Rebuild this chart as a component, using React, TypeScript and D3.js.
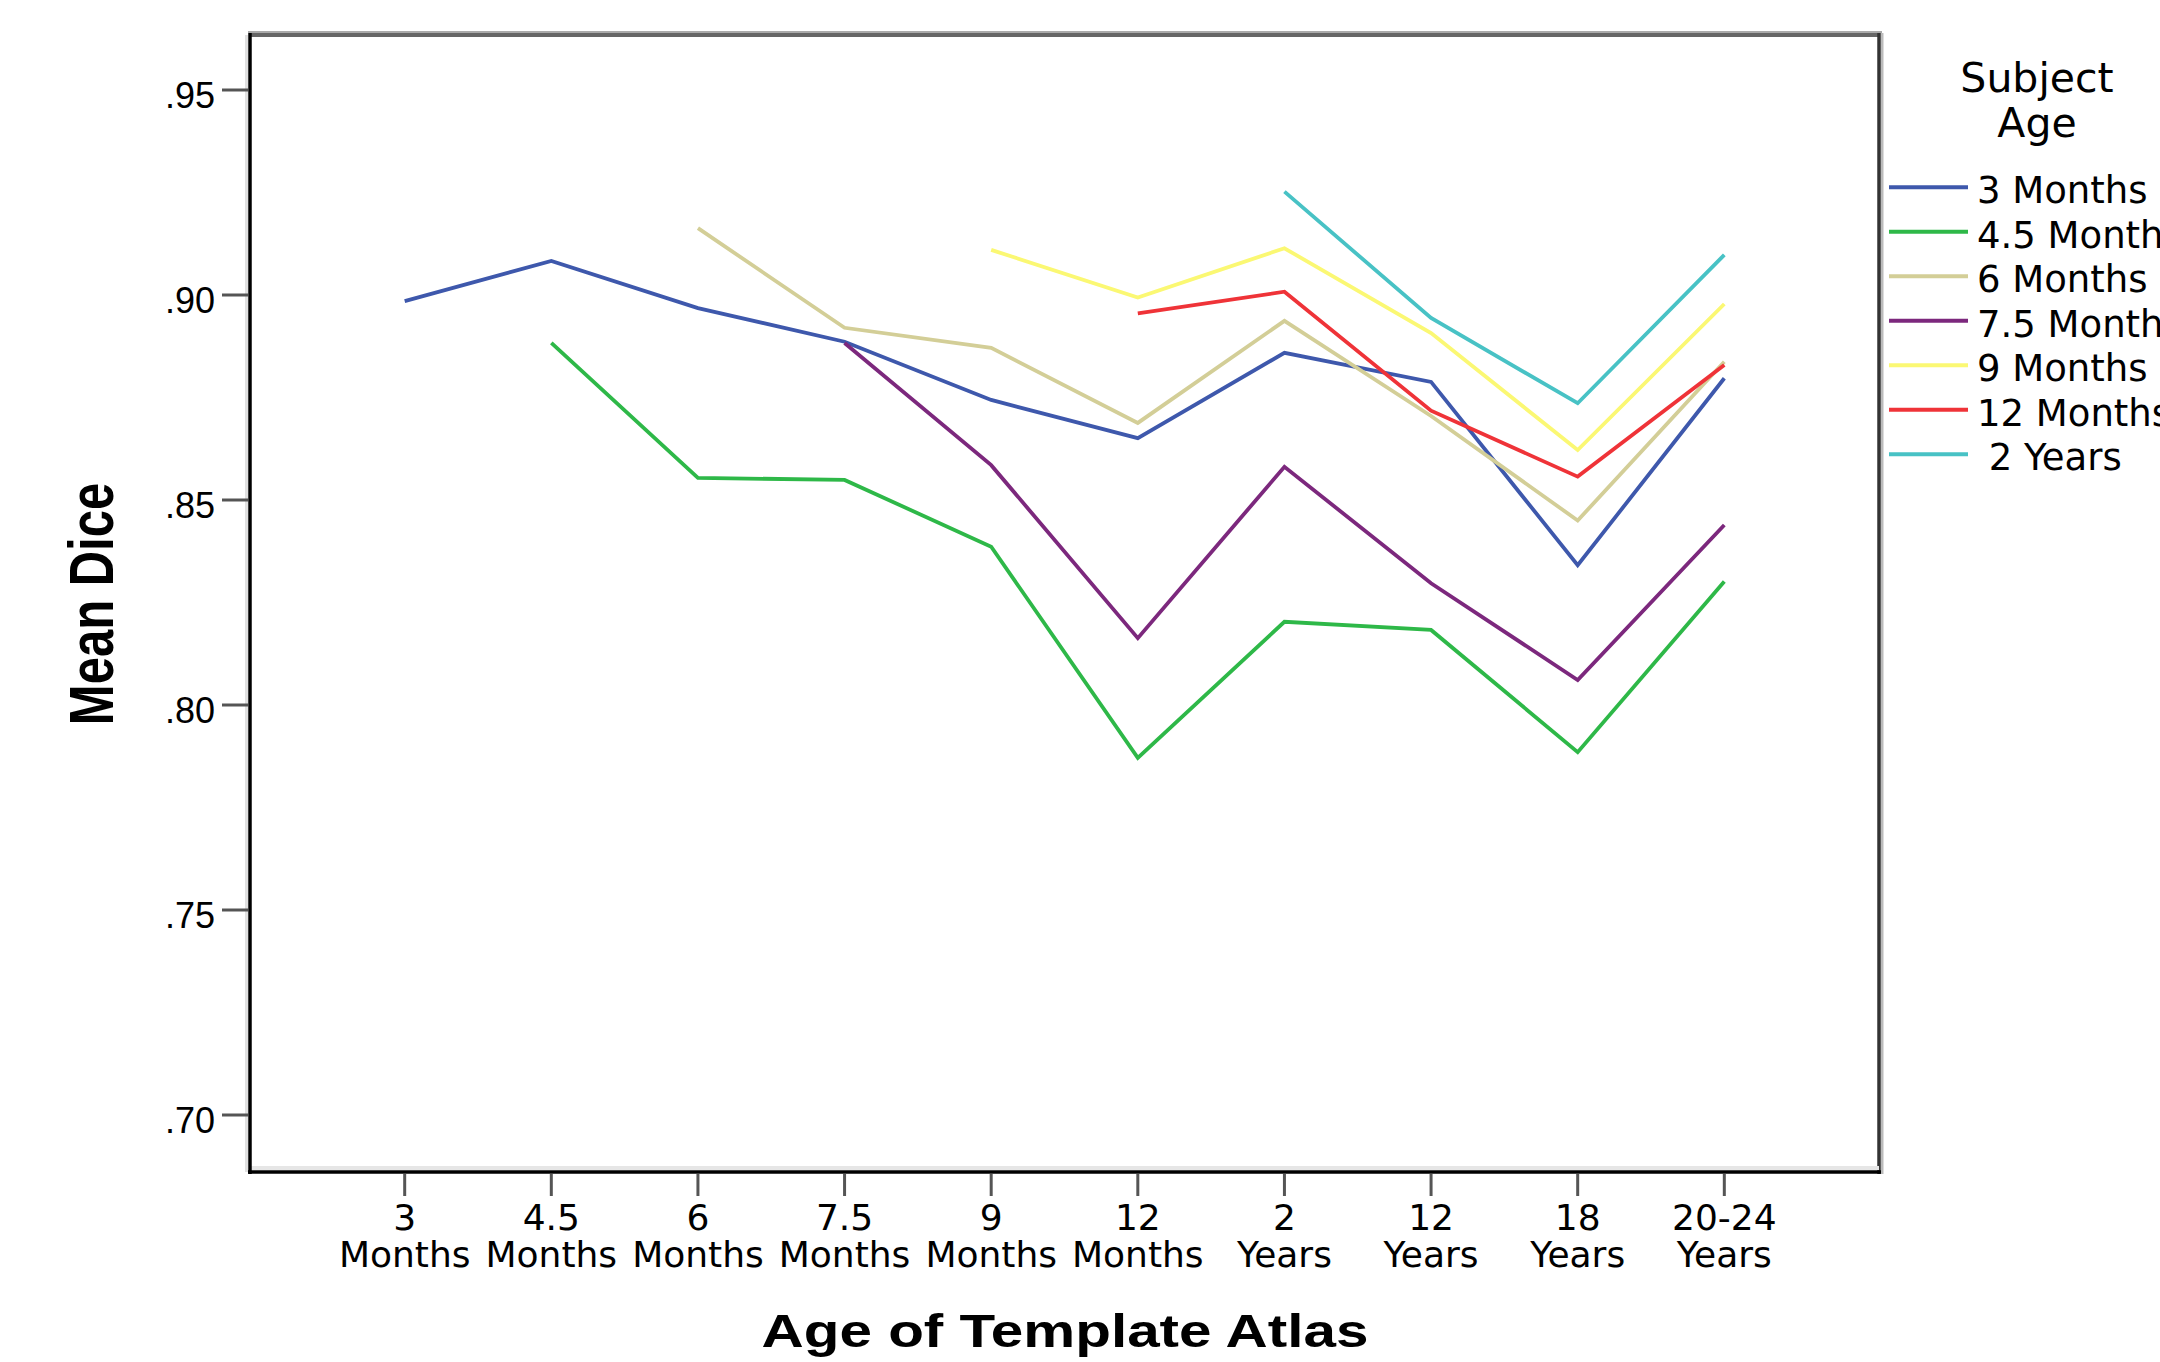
import React from "react";
import * as d3 from "d3";

const categories = ["3 Months", "4.5 Months", "6 Months", "7.5 Months", "9 Months", "12 Months", "2 Years", "12 Years", "18 Years", "20-24 Years"];
const xLabelTop = ["3", "4.5", "6", "7.5", "9", "12", "2", "12", "18", "20-24"];
const xLabelBottom = ["Months", "Months", "Months", "Months", "Months", "Months", "Years", "Years", "Years", "Years"];

const yTicks = [0.7, 0.75, 0.8, 0.85, 0.9, 0.95];
const yTickLabels = [".70", ".75", ".80", ".85", ".90", ".95"];

const seriesNames = ["3 Months", "4.5 Months", "6 Months", "7.5 Months", "9 Months", "12 Months", " 2 Years"];
const seriesColors = ["#3E58AC", "#2EB848", "#D3CE97", "#7C287D", "#FBF873", "#EF3338", "#48C2C5"];

const s3Months = [0.8985, 0.9083, 0.8968, 0.8886, 0.8744, 0.8651, 0.8859, 0.8788, 0.8341, 0.8797];
const s45Months = [null, 0.8883, 0.8554, 0.8549, 0.8386, 0.7871, 0.8203, 0.8183, 0.7885, 0.8301];
const s6Months = [null, null, 0.9163, 0.892, 0.8871, 0.8688, 0.8937, 0.8705, 0.845, 0.8837];
const s75Months = [null, null, null, 0.8883, 0.8585, 0.8163, 0.8581, 0.8297, 0.8061, 0.8439];
const s9Months = [null, null, null, null, 0.911, 0.8994, 0.9114, 0.8907, 0.8622, 0.8978];
const s12Months = [null, null, null, null, null, 0.8955, 0.9008, 0.8718, 0.8557, 0.8829];
const s2Years = [null, null, null, null, null, null, 0.9252, 0.8944, 0.8736, 0.9098];

const seriesValues: (number | null)[][] = [s3Months, s45Months, s6Months, s75Months, s9Months, s12Months, s2Years];

const W = 2160;
const H = 1362;
const L = 250, R = 1879, T = 35, B = 1172;

export default function App() {
  const x = d3.scalePoint<string>().domain(categories).range([L, R]).padding(1.055);
  const y = d3.scaleLinear().domain([0.7, 0.95]).range([1115, 90]);

  const line = d3
    .line<number | null>()
    .defined((d) => d != null)
    .x((_, i) => x(categories[i]) as number)
    .y((d) => y(d as number));

  const regular = "'Liberation Sans', Arial, sans-serif";
  const dejavu = "'DejaVu Sans', Verdana, sans-serif";

  return (
    <svg
      width={W}
      height={H}
      viewBox={`0 0 ${W} ${H}`}
      style={{ position: "absolute", left: 0, top: 0, display: "block", background: "#fff" }}
    >
      <rect x={0} y={0} width={W} height={H} fill="#fff" />

      {/* frame */}
      <line x1={L - 2} x2={R + 3} y1={32} y2={32} stroke="#aaa" strokeWidth={2} />
      <line x1={L} x2={R} y1={T} y2={T} stroke="#666" strokeWidth={4} />
      <line x1={R + 3} x2={R + 3} y1={T - 2} y2={B + 2} stroke="#bbb" strokeWidth={3} />
      <line x1={R} x2={R} y1={T - 2} y2={B + 2} stroke="#333" strokeWidth={3.5} />
      <line x1={L} x2={R} y1={B - 4} y2={B - 4} stroke="#e6e6e6" strokeWidth={4} />
      <line x1={L - 3.5} x2={L - 3.5} y1={T} y2={B} stroke="#e0e0e0" strokeWidth={3} />
      <line x1={L} x2={L} y1={T - 2} y2={B + 2} stroke="#000" strokeWidth={3.5} />
      <line x1={L - 2} x2={R + 2} y1={B} y2={B} stroke="#000" strokeWidth={3.5} />

      {/* y axis ticks */}
      {yTicks.map((t, i) => (
        <g key={"yt" + i}>
          <line x1={222} x2={L - 2} y1={y(t)} y2={y(t)} stroke="#555" strokeWidth={3} />
          <text x={215} y={y(t) + 18} textAnchor="end" fontFamily={regular} fontSize={36} fill="#000">
            {yTickLabels[i]}
          </text>
        </g>
      ))}

      {/* x axis ticks */}
      {categories.map((c, i) => (
        <g key={"xt" + i}>
          <line x1={x(c)} x2={x(c)} y1={B + 2} y2={1196} stroke="#555" strokeWidth={3} />
          <text x={x(c)} y={1230} textAnchor="middle" fontFamily={dejavu} fontSize={36} fill="#000">
            {xLabelTop[i]}
          </text>
          <text x={x(c)} y={1267} textAnchor="middle" fontFamily={dejavu} fontSize={36} fill="#000">
            {xLabelBottom[i]}
          </text>
        </g>
      ))}

      {/* series lines */}
      {seriesValues.map((vals, si) => (
        <path
          key={"s" + si}
          d={line(vals) || ""}
          fill="none"
          stroke={seriesColors[si]}
          strokeWidth={3.8}
          strokeLinejoin="miter"
        />
      ))}

      {/* axis titles */}
      <g transform="translate(1065,1347) scale(1.27,1)">
        <text x={0} y={0} textAnchor="middle" fontFamily={regular} fontWeight="bold" fontSize={46} fill="#000">
          Age of Template Atlas
        </text>
      </g>
      <g transform="translate(113,604) scale(1.28,1) rotate(-90)">
        <text x={0} y={0} textAnchor="middle" fontFamily={regular} fontWeight="bold" fontSize={49} fill="#000">
          Mean Dice
        </text>
      </g>

      {/* legend */}
      <text x={2037} y={92} textAnchor="middle" fontFamily={dejavu} fontSize={41} fill="#000">
        Subject
      </text>
      <text x={2037} y={137} textAnchor="middle" fontFamily={dejavu} fontSize={41} fill="#000">
        Age
      </text>
      {seriesNames.map((n, i) => {
        const ly = 187.3 + i * 44.5;
        return (
          <g key={"lg" + i}>
            <line x1={1889} x2={1968} y1={ly} y2={ly} stroke={seriesColors[i]} strokeWidth={4} />
            <text
              x={1977}
              y={ly + 16}
              fontFamily={dejavu}
              fontSize={37}
              fill="#000"
              style={{ whiteSpace: "pre" }}
            >
              {n}
            </text>
          </g>
        );
      })}
    </svg>
  );
}
